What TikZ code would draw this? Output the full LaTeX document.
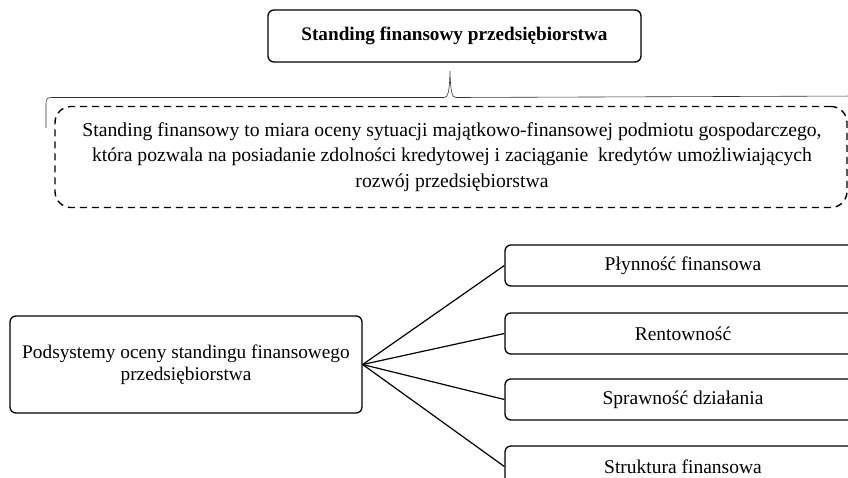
\documentclass[tikz,border=0pt]{standalone}
\usepackage{fontspec}
\setmainfont{Liberation Serif}
\begin{document}
\begin{tikzpicture}[x=1pt,y=-1pt,
  box/.style={draw, line width=1.3pt, rounded corners=6pt, align=center, inner sep=0pt},
  defbox/.style={draw, line width=1.4pt, dash pattern=on 7pt off 5pt, rounded corners=16pt, inner sep=0pt},
  link/.style={line width=1.2pt},
  bracket/.style={line width=0.6pt, draw=black!80}]
\useasboundingbox (0,0) rectangle (848,477);
\clip (0,0) rectangle (848,477);

% title
\node[box, minimum width=373pt, minimum height=52pt, font=\fontsize{19.2}{22}\selectfont\bfseries] (title) at (454.5,36) {Standing finansowy przedsiębiorstwa};

% curly bracket under the title
\coordinate (tip) at (450,71);
\draw[bracket] (46,128) -- (46,104) .. controls (46,99) and (47,97.5) .. (52,97.5)
  -- (444,97.5) .. controls (448,97.5) and (449.5,92) .. (tip)
  .. controls (450.5,92) and (452,97.5) .. (456,97.5) -- (860,96);

% definition
\node[defbox, minimum width=792pt, minimum height=101pt] (def) at (451,157) {};
\node[align=center, font=\fontsize{19.7}{25.5}\selectfont] (deftext) at (452,157)
  {Standing finansowy to miara oceny sytuacji majątkowo-finansowej podmiotu gospodarczego,\\
   która pozwala na posiadanie zdolności kredytowej i zaciąganie\ \ kredytów umożliwiających\\
   rozwój przedsiębiorstwa};

% subsystems
\node[box, minimum width=352pt, minimum height=97pt, font=\fontsize{19.3}{22}\selectfont] (sub) at (186,364.5)
  {Podsystemy oceny standingu finansowego\\przedsiębiorstwa};

\begin{scope}[every node/.style={box, minimum width=356pt, minimum height=41pt, font=\fontsize{19.5}{22}\selectfont}]
\node (p1) at (683,265.5) {Płynność finansowa};
\node (p2) at (683,333.5) {Rentowność};
\node (p3) at (683,399.5) {Sprawność działania};
\node (p4) at (683,466.5) {Struktura finansowa};
\end{scope}

\foreach \n in {p1,p2,p3,p4}
  \draw[link] (sub.east) -- (\n.west);
\end{tikzpicture}
\end{document}
